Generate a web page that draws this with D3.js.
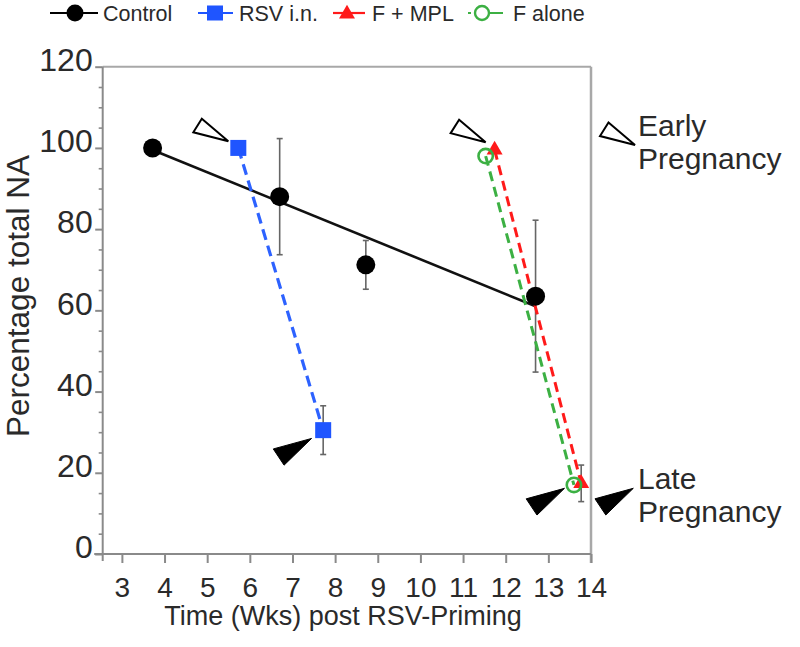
<!DOCTYPE html>
<html><head><meta charset="utf-8">
<script src="https://cdn.jsdelivr.net/npm/d3@7"></script>
<style>
body{margin:0;background:#fff}
svg{display:block}
text{font-family:"Liberation Sans",Arial,Helvetica,sans-serif;fill:#2a2a2a}
</style>
</head><body>
<svg id="chart" width="800" height="647"></svg>
<script>
// ---------- data ----------
const seriesNames = ["Control", "RSV i.n.", "F + MPL", "F alone"];
const seriesColors = ["#000000", "#1f55ff", "#ff1a1a", "#3cb043"];

const controlX = [3.72, 6.70, 8.72, 12.70];
const controlY = [100, 88, 71.2, 63.5];
const controlErr = [0, 14.3, 6, 18.7];
const controlFitX = [3.72, 12.70];
const controlFitY = [99.5, 61];

const rsvX = [5.73, 7.72];
const rsvY = [100, 30.5];
const rsvErr = [0, 6];

const fmplX = [11.74, 13.77];
const fmplY = [99.5, 17.4];
const fmplErr = [0, 4.5];

const faloneX = [11.53, 13.6];
const faloneY = [98, 17];

const xTicks = [3, 4, 5, 6, 7, 8, 9, 10, 11, 12, 13, 14];
const yTicks = [0, 20, 40, 60, 80, 100, 120];
const yMinorTicks = [5, 10, 15, 25, 30, 35, 45, 50, 55, 65, 70, 75, 85, 90, 95, 105, 110, 115];

const xTitle = "Time (Wks) post RSV-Priming";
const yTitle = "Percentage total NA";
const earlyLabel = ["Early", "Pregnancy"];
const lateLabel = ["Late", "Pregnancy"];

// ---------- layout ----------
const svg = d3.select("#chart");
const pLeft = 102.7, pRight = 591, pTop = 66.7, pBottom = 554;
const x = d3.scaleLinear().domain([2.55, 14]).range([pLeft, pRight]);
const y = d3.scaleLinear().domain([0, 120]).range([pBottom, pTop]);
const axisColor = "#8a8a8a";

// frame lines (top/right)
svg.append("line").attr("x1", pLeft).attr("x2", pRight).attr("y1", pTop).attr("y2", pTop)
  .attr("stroke", "#a8a8a8").attr("stroke-width", 2);
svg.append("line").attr("x1", pRight).attr("x2", pRight).attr("y1", pTop).attr("y2", pBottom + 9)
  .attr("stroke", "#a8a8a8").attr("stroke-width", 2.5);

// y axis
const yAxis = svg.append("g").attr("transform", `translate(${pLeft},0)`)
  .call(d3.axisLeft(y).tickValues(yTicks).tickSize(7.5).tickPadding(2.5).tickFormat(d3.format("d")));
yAxis.select(".domain").remove();
yAxis.selectAll(".tick line").attr("stroke", axisColor).attr("stroke-width", 2);
yAxis.selectAll(".tick text").attr("font-size", 32).attr("dy", "0.12em").attr("fill", "#2a2a2a")
  .attr("font-family", "Liberation Sans, Arial, sans-serif");
const yMinor = svg.append("g").attr("transform", `translate(${pLeft},0)`)
  .call(d3.axisLeft(y).tickValues(yMinorTicks).tickSize(4).tickFormat(""));
yMinor.select(".domain").remove();
yMinor.selectAll(".tick line").attr("stroke", axisColor).attr("stroke-width", 1.6);
svg.append("line").attr("x1", pLeft).attr("x2", pLeft).attr("y1", pTop).attr("y2", pBottom + 7)
  .attr("stroke", axisColor).attr("stroke-width", 2);

// x axis
const xAxis = svg.append("g").attr("transform", `translate(0,${pBottom})`)
  .call(d3.axisBottom(x).tickValues(xTicks).tickSize(9).tickPadding(14).tickFormat(d3.format("d")));
xAxis.select(".domain").remove();
xAxis.selectAll(".tick line").attr("stroke", axisColor).attr("stroke-width", 2);
xAxis.selectAll(".tick text").attr("font-size", 28).attr("fill", "#2a2a2a")
  .attr("font-family", "Liberation Sans, Arial, sans-serif");
svg.append("line").attr("x1", pLeft - 8.5).attr("x2", pRight).attr("y1", pBottom).attr("y2", pBottom)
  .attr("stroke", axisColor).attr("stroke-width", 2);

// titles
svg.append("text").attr("x", 343).attr("y", 625).attr("text-anchor", "middle")
  .attr("font-size", 27).text(xTitle);
svg.append("text").attr("transform", "translate(29,296) rotate(-90)").attr("text-anchor", "middle")
  .attr("font-size", 31.5).text(yTitle);

// ---------- marks ----------
const pts = (xs, ys) => xs.map((v, i) => [v, ys[i]]);
const line = d3.line().x(d => x(d[0])).y(d => y(d[1]));

// control regression line
svg.append("path").datum(pts(controlFitX, controlFitY)).attr("d", line)
  .attr("fill", "none").attr("stroke", "#111").attr("stroke-width", 2.6);

// error bars
function errorBars(xs, ys, errs) {
  xs.forEach((xv, i) => {
    if (!errs[i]) return;
    const g = svg.append("g").attr("stroke", "#666").attr("stroke-width", 1.6);
    g.append("line").attr("x1", x(xv)).attr("x2", x(xv)).attr("y1", y(ys[i] + errs[i])).attr("y2", y(ys[i] - errs[i]));
    g.append("line").attr("x1", x(xv) - 3).attr("x2", x(xv) + 3).attr("y1", y(ys[i] + errs[i])).attr("y2", y(ys[i] + errs[i]));
    g.append("line").attr("x1", x(xv) - 3).attr("x2", x(xv) + 3).attr("y1", y(ys[i] - errs[i])).attr("y2", y(ys[i] - errs[i]));
  });
}
errorBars(controlX, controlY, controlErr);
errorBars(rsvX, rsvY, rsvErr);
errorBars(fmplX, fmplY, fmplErr);

// dashed series lines
svg.append("path").datum(pts(rsvX, rsvY)).attr("d", line).attr("fill", "none")
  .attr("stroke", "#2d62ff").attr("stroke-width", 3.2).attr("stroke-dasharray", "11,6");
svg.append("path").datum(pts(faloneX, faloneY)).attr("d", line).attr("fill", "none")
  .attr("stroke", seriesColors[3]).attr("stroke-width", 3).attr("stroke-dasharray", "10,6");
svg.append("path").datum(pts(fmplX, fmplY)).attr("d", line).attr("fill", "none")
  .attr("stroke", seriesColors[2]).attr("stroke-width", 3).attr("stroke-dasharray", "10,6");

// markers
const tri = d3.symbol().type(d3.symbolTriangle).size(110);
svg.selectAll(".rsvm").data(pts(rsvX, rsvY)).join("rect")
  .attr("x", d => x(d[0]) - 8).attr("y", d => y(d[1]) - 8).attr("width", 16).attr("height", 16)
  .attr("fill", seriesColors[1]);
svg.selectAll(".fm").data(pts(fmplX, fmplY)).join("path")
  .attr("transform", d => `translate(${x(d[0])},${y(d[1])})`).attr("d", tri).attr("fill", seriesColors[2]);
svg.selectAll(".fa").data(pts(faloneX, faloneY)).join("circle")
  .attr("cx", d => x(d[0])).attr("cy", d => y(d[1])).attr("r", 7.2)
  .attr("fill", "none").attr("stroke", seriesColors[3]).attr("stroke-width", 2.6);
svg.selectAll(".cm").data(pts(controlX, controlY)).join("circle")
  .attr("cx", d => x(d[0])).attr("cy", d => y(d[1])).attr("r", 9.5).attr("fill", "#000");

// pregnancy pointers
const openPtr = "M0,0 L-35,-9 L-26.5,-22.5 Z";
const fillPtr = "M0,0 L-38.3,10.5 L-27.5,26.7 Z";
function pointer(px, py, open) {
  svg.append("path").attr("transform", `translate(${px},${py})`).attr("d", open ? openPtr : fillPtr)
    .attr("fill", open ? "#fff" : "#000").attr("stroke", "#000").attr("stroke-width", open ? 2 : 1)
    .attr("stroke-linejoin", "miter");
}
pointer(x(rsvX[0]) - 10, y(rsvY[0]) - 6.6, true);
pointer(x(fmplX[0]) - 9, y(fmplY[0]) - 7.7, true);
pointer(x(rsvX[1]) - 11.6, y(rsvY[1]) + 8.3, false);
pointer(x(fmplX[1]) - 16.7, y(fmplY[1]) + 5, false);
pointer(635, 145, true);
pointer(633.3, 488.3, false);

svg.append("text").attr("x", 638).attr("y", 136).attr("font-size", 30).text(earlyLabel[0]);
svg.append("text").attr("x", 638).attr("y", 169).attr("font-size", 30).text(earlyLabel[1]);
svg.append("text").attr("x", 638).attr("y", 489).attr("font-size", 30).text(lateLabel[0]);
svg.append("text").attr("x", 638).attr("y", 522).attr("font-size", 30).text(lateLabel[1]);

// ---------- legend ----------
const legendItems = [
  {name: seriesNames[0], color: seriesColors[0], x1: 50, x2: 98, mx: 75, tx: 103, shape: "circle", dash: null},
  {name: seriesNames[1], color: seriesColors[1], x1: 198, x2: 233, mx: 215, tx: 239, shape: "square", dash: null},
  {name: seriesNames[2], color: seriesColors[2], x1: 333, x2: 365, mx: 347, tx: 372, shape: "triangle", dash: null},
  {name: seriesNames[3], color: seriesColors[3], x1: 468, x2: 503, mx: 482, tx: 513, shape: "open", dash: "3,6,30"}
];
const lg = svg.append("g");
legendItems.forEach(it => {
  lg.append("line").attr("x1", it.x1).attr("x2", it.x2).attr("y1", 13).attr("y2", 13)
    .attr("stroke", it.color).attr("stroke-width", 2.2).attr("stroke-dasharray", it.dash);
  if (it.shape === "circle") lg.append("circle").attr("cx", it.mx).attr("cy", 13).attr("r", 8.5).attr("fill", it.color);
  if (it.shape === "square") lg.append("rect").attr("x", it.mx - 8).attr("y", 5.5).attr("width", 16).attr("height", 15).attr("fill", it.color);
  if (it.shape === "triangle") lg.append("path").attr("transform", `translate(${it.mx},14)`).attr("d", d3.symbol().type(d3.symbolTriangle).size(110)).attr("fill", it.color);
  if (it.shape === "open") lg.append("circle").attr("cx", it.mx).attr("cy", 13).attr("r", 7).attr("fill", "#fff").attr("stroke", it.color).attr("stroke-width", 2.4);
  lg.append("text").attr("x", it.tx).attr("y", 20.5).attr("font-size", 21.5).attr("fill", "#3a3a3a").text(it.name);
});
</script>
</body></html>
